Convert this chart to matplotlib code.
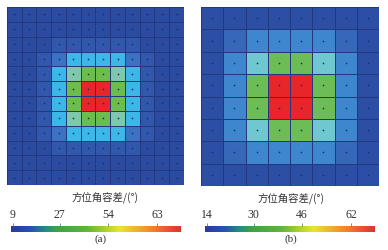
import numpy as np
import matplotlib
matplotlib.use("Agg")
import matplotlib.pyplot as plt
from matplotlib.colors import ListedColormap, BoundaryNorm, LinearSegmentedColormap

# ---- data ----
# (a) 12x12 grid, azimuth tolerance values
a_vals = [
    [12, 12, 12, 12, 12, 12, 12, 12, 12, 12, 12, 12],
    [12, 12, 12, 12, 12, 12, 12, 12, 12, 12, 12, 12],
    [12, 12, 12, 16, 16, 16, 16, 16, 16, 12, 12, 12],
    [12, 12, 16, 21, 30, 30, 30, 30, 21, 16, 12, 12],
    [12, 12, 16, 30, 38, 46, 46, 38, 30, 16, 12, 12],
    [12, 12, 16, 30, 46, 68, 68, 46, 30, 16, 12, 12],
    [12, 12, 16, 30, 46, 68, 68, 46, 30, 16, 12, 12],
    [12, 12, 16, 30, 38, 46, 46, 38, 30, 16, 12, 12],
    [12, 12, 16, 21, 30, 30, 30, 30, 21, 16, 12, 12],
    [12, 12, 12, 16, 16, 16, 16, 16, 16, 12, 12, 12],
    [12, 12, 12, 12, 12, 12, 12, 12, 12, 12, 12, 12],
    [12, 12, 12, 12, 12, 12, 12, 12, 12, 12, 12, 12],
]
# (b) 8x8 grid
b_vals = [
    [16, 16, 16, 16, 16, 16, 16, 16],
    [16, 20, 27, 27, 27, 27, 20, 16],
    [16, 27, 35, 46, 46, 35, 27, 16],
    [16, 27, 46, 66, 66, 46, 27, 16],
    [16, 27, 46, 66, 66, 46, 27, 16],
    [16, 27, 35, 46, 46, 35, 27, 16],
    [16, 20, 27, 27, 27, 27, 20, 16],
    [16, 16, 16, 16, 16, 16, 16, 16],
]
a_ticklabels = ["9", "27", "54", "63"]
b_ticklabels = ["14", "30", "46", "62"]
cb_title = "方位角容差/(°)"

# cell colour classes
a_bounds = [9, 14, 19, 25, 34, 42, 55, 70]
a_colors = ["#2b4ba1", "#3258ae", "#3b72c4", "#3cb7e7", "#7fc8aa", "#6cbd4c", "#e8262a"]
b_bounds = [14, 18, 23, 30, 40, 55, 70]
b_colors = ["#2c4ea4", "#3668ba", "#3e87cf", "#6fc8cf", "#6cbd55", "#e8262a"]

# colourbar gradient
cb_cmap = LinearSegmentedColormap.from_list("cb", [
    (0.0, "#2b3a98"), (0.12, "#2456b0"), (0.2, "#1d8f86"), (0.28, "#3aa83c"),
    (0.45, "#5cb83a"), (0.55, "#a8cf30"), (0.64, "#ece433"), (0.7, "#f2c232"),
    (0.82, "#f08a30"), (1.0, "#e62e2e")])

fig = plt.figure(figsize=(3.88, 2.5), dpi=100)
cjk = ["Noto Sans CJK SC", "DejaVu Sans"]
serif = ["Liberation Serif", "DejaVu Serif"]


def grid(rect, vals, bounds, colors):
    ax = fig.add_axes(rect)
    v = np.array(vals)
    n = v.shape[0]
    cmap = ListedColormap(colors)
    norm = BoundaryNorm(bounds, cmap.N)
    ax.pcolormesh(np.arange(n + 1), np.arange(n + 1), v, cmap=cmap, norm=norm,
                  edgecolors="#22397f", linewidth=0.45)
    xx, yy = np.meshgrid(np.arange(n) + 0.5, np.arange(n) + 0.5)
    ax.scatter(xx.ravel(), yy.ravel(), s=1.5, color="#1a3070", linewidths=0)
    ax.set_xlim(0, n)
    ax.set_ylim(n, 0)
    ax.set_axis_off()
    return ax


def cbar(rect, labels):
    ax = fig.add_axes(rect)
    ax.imshow(np.linspace(0, 1, 256)[None, :], aspect="auto", cmap=cb_cmap,
              extent=[0, 1, 0, 1])
    ax.set_xlim(0, 1)
    ax.set_yticks([])
    ax.xaxis.tick_top()
    ax.set_xticks([0.01, 0.288, 0.575, 0.864])
    ax.set_xticklabels(labels, fontfamily=serif, fontsize=8.5, color="#333333")
    ax.tick_params(axis="x", length=2, width=0.6, color="#777777", pad=1.5)
    for s in ax.spines.values():
        s.set_visible(False)
    return ax


grid([0.018, 0.26, 0.456, 0.712], a_vals, a_bounds, a_colors)
grid([0.518, 0.256, 0.459, 0.716], b_vals, b_bounds, b_colors)

cbar([0.028, 0.072, 0.436, 0.024], a_ticklabels)
cbar([0.528, 0.072, 0.436, 0.024], b_ticklabels)

fig.text(0.27, 0.205, cb_title, ha="center", va="center", fontsize=7.5, family=cjk, color="#333333")
fig.text(0.75, 0.203, cb_title, ha="center", va="center", fontsize=7.5, family=cjk, color="#333333")
fig.text(0.26, 0.044, "(a)", ha="center", va="center", fontsize=8, family=serif, color="#333333")
fig.text(0.75, 0.044, "(b)", ha="center", va="center", fontsize=8, family=serif, color="#333333")

fig.savefig("out.png", dpi=100, facecolor="white")
